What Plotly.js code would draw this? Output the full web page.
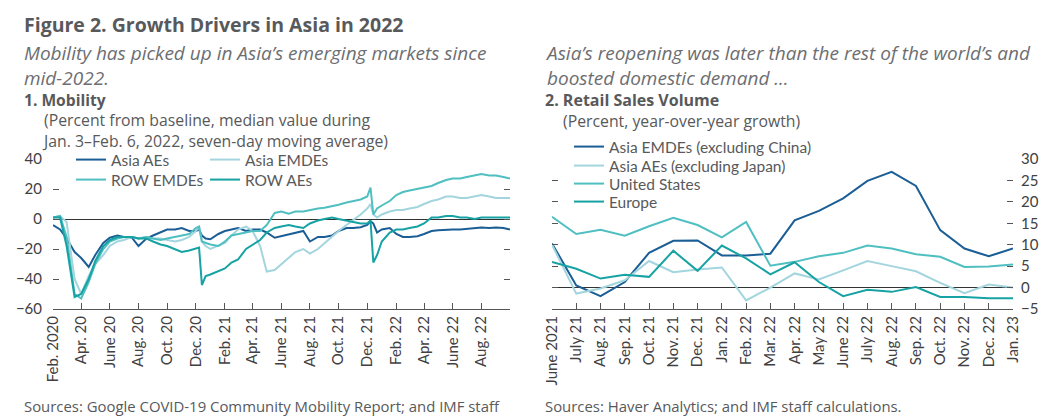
<!DOCTYPE html>
<html>
<head>
<meta charset="utf-8">
<script src="https://cdn.plot.ly/plotly-3.0.1.min.js"></script>
<style>
html,body{margin:0;padding:0;background:#fff;}
#chart{width:1059px;height:417px;}
</style>
</head>
<body>
<div id="chart"></div>
<script>
// ---------- Panel 1: Mobility (approximate readings, semi-monthly) ----------
const mobDates = [
 '2020-02-15','2020-03-01','2020-03-15','2020-04-01','2020-04-15','2020-05-01','2020-05-15','2020-06-01','2020-06-15',
 '2020-07-01','2020-07-15','2020-08-01','2020-08-15','2020-09-01','2020-09-15','2020-10-01','2020-10-15','2020-11-01',
 '2020-11-15','2020-12-01','2020-12-15','2020-12-22','2020-12-28',
 '2021-01-05','2021-01-15','2021-02-01','2021-02-15','2021-03-01','2021-03-15','2021-04-01','2021-04-15','2021-05-01',
 '2021-05-15','2021-06-01','2021-06-15','2021-07-01','2021-07-15','2021-08-01','2021-08-15','2021-09-01','2021-09-15',
 '2021-10-01','2021-10-15','2021-11-01','2021-11-15','2021-12-01','2021-12-15','2021-12-22','2021-12-28',
 '2022-01-05','2022-01-15','2022-02-01','2022-02-15','2022-03-01','2022-03-15','2022-04-01','2022-04-15','2022-05-01',
 '2022-05-15','2022-06-01','2022-06-15','2022-07-01','2022-07-15','2022-08-01','2022-08-15','2022-09-01','2022-09-15',
 '2022-10-01','2022-10-15'
];
const asiaAEs = [
 -4,-7,-13,-22,-26,-32,-24,-16,-12.5,
 -11,-12,-12.5,-18,-13,-11,-9,-7,-7,
 -6,-8,-8,-7,-11,
 -13,-13.5,-10,-8,-7,-6,-8,-7,-7,
 -9,-12.5,-11.5,-10,-9,-8,-15,-12,-12,
 -11,-8,-6,-6,-5.5,-4,-1.5,-3,
 -9,-7,-6,-10,-12,-12,-11.5,-10,-8,
 -7.5,-7,-7,-7,-6.5,-6,-5.7,-6,-5.7,
 -6,-7
];
const asiaEMDEs = [
 1,2,-2,-40,-50,-38,-30,-24,-18,
 -15,-14,-12,-13,-12,-13,-13,-14,-15,
 -14,-12,-8,-5,-15,
 -18,-20,-18,-16,-11,-7,-5,-8,-18,
 -35,-34,-30,-26,-22,-20,-23,-20,-16,
 -12,-8,-4,-1,3,7,10,3,
 1,3,5,6,6,7,8,10,12,
 13,15,15,14,14,15,16,15,14,
 14,14
];
const rowEMDEs = [
 1,2,-12,-50,-53,-42,-30,-20,-15,
 -13,-12,-12,-13,-12,-13,-14,-13,-12,
 -11,-10,-6,-5,-15,
 -16,-17,-18,-15,-11,-10,-9,-8,-8,
 -4,4,5,3.5,5,5,6,7,7.5,
 8.5,9.5,11,12,13,15,21,3,
 7,9,12,16,18,19,20,21,22,
 24,26,27,27,28,29,30,29,29,
 28,27
];
const rowAEs = [
 1,1,-18,-52,-50,-40,-28,-18,-14,
 -12,-12,-12,-13,-13,-15,-17,-18,-20,
 -22,-21,-20,-19,-44,
 -38,-37,-35,-33,-29,-27,-20,-17,-14,
 -9,-6,-5,-4,-5,-6,-3,-1,0,
 1,0,-1,-2,-3,-3,-1,-29,
 -24,-15,-9,-7,-7,-6,-5,-3,1,
 1,2,2,1,1,0,1,1,1,
 1,1
];
const mobTickVals = ['2020-02-15','2020-04-15','2020-06-15','2020-08-15','2020-10-15','2020-12-15','2021-02-15','2021-04-15',
 '2021-06-15','2021-08-15','2021-10-15','2021-12-15','2022-02-15','2022-04-15','2022-06-15','2022-08-15'];
const mobTickText = ['Feb. 2020','Apr. 20','June 20','Aug. 20','Oct. 20','Dec. 20','Feb. 21','Apr. 21',
 'June 21','Aug. 21','Oct. 21','Dec. 21','Feb. 22','Apr. 22','June 22','Aug. 22'];

// ---------- Panel 2: Retail sales volume ----------
const salesMonths = ['June 2021','July 21','Aug. 21','Sep. 21','Oct. 21','Nov. 21','Dec. 21','Jan. 22','Feb. 22','Mar. 22',
 'Apr. 22','May 22','June 22','July 22','Aug. 22','Sep. 22','Oct. 22','Nov. 22','Dec. 22','Jan. 23'];
const salesAsiaEMDEs = [10.3,0.5,-2.0,1.3,8.1,10.9,11.0,7.5,7.5,7.9,15.7,17.9,20.8,24.9,27.0,23.7,13.4,9.1,7.3,9.1];
const salesAsiaAEs   = [10.0,-1.4,-0.2,1.7,6.2,3.6,4.2,4.7,-3.0,0.0,3.3,1.9,4.0,6.2,5.0,3.8,1.1,-1.3,0.7,0.0];
const salesUS        = [16.5,12.5,13.5,12.1,14.3,16.3,14.6,11.7,15.3,5.1,6.0,7.3,8.1,9.8,9.1,7.8,7.2,4.8,4.9,5.4];
const salesEurope    = [6.0,4.4,2.1,3.0,2.5,8.6,3.9,9.8,6.8,3.1,5.9,1.3,-2.0,-0.5,-1.0,0.1,-2.2,-2.2,-2.5,-2.5];

const C_DARK = '#1b5e96', C_LIGHT = '#a3d5de', C_MID = '#4fbfc1', C_TEAL = '#17a2a3';
const FONT = '"Open Sans", sans-serif';
const FONT2 = 'Lato, sans-serif';
const TXT = '#58595b';
const W = 1059, T = 159, B = 108, PH = 417 - T - B;
const px = x => x / W;
const py = y => (417 - B - y) / PH;

const lw = 2;
const mk = (x, y, name, color, xa, ya, lg) => ({x: x, y: y, name: name, mode: 'lines', line: {color: color, width: lw},
  xaxis: xa, yaxis: ya, legend: lg});
const traces = [
 mk(mobDates, asiaAEs, 'Asia AEs', C_DARK, 'x', 'y', 'legend'),
 mk(mobDates, asiaEMDEs, 'Asia EMDEs', C_LIGHT, 'x', 'y', 'legend2'),
 mk(mobDates, rowEMDEs, 'ROW EMDEs', C_MID, 'x', 'y', 'legend3'),
 mk(mobDates, rowAEs, 'ROW AEs', C_TEAL, 'x', 'y', 'legend4'),
 mk(salesMonths, salesAsiaEMDEs, 'Asia EMDEs (excluding China)', C_DARK, 'x2', 'y2', 'legend5'),
 mk(salesMonths, salesAsiaAEs, 'Asia AEs (excluding Japan)', C_LIGHT, 'x2', 'y2', 'legend6'),
 mk(salesMonths, salesUS, 'United States', C_MID, 'x2', 'y2', 'legend7'),
 mk(salesMonths, salesEurope, 'Europe', C_TEAL, 'x2', 'y2', 'legend8')
];

const tickFont = {family: FONT2, size: 15, color: '#414042'};
const ann = (x, y, text, size, style) => ({xref: 'paper', yref: 'paper', x: px(x), y: py(y), text: text,
  showarrow: false, xanchor: 'left', yanchor: 'middle', align: 'left', borderpad: 0,
  font: Object.assign({family: FONT, size: size, color: TXT}, style || {})});
const leg = (x, y) => ({orientation: 'v', x: px(x), y: py(y), xanchor: 'left', yanchor: 'middle',
  bgcolor: 'rgba(0,0,0,0)', borderwidth: 0, font: {family: FONT2, size: 15.5, color: TXT}, itemwidth: 30});

const layout = {
 width: W, height: 417,
 margin: {l: 0, r: 0, t: T, b: B, pad: 0},
 paper_bgcolor: '#fff', plot_bgcolor: '#fff',
 showlegend: true,
 xaxis: {
  type: 'date', domain: [px(53), px(510)], range: ['2020-02-15', '2022-10-15'],
  tickvals: mobTickVals, ticktext: mobTickText, tickangle: -90, tickfont: tickFont,
  ticks: 'inside', ticklen: 6, tickcolor: '#555', showline: true, linecolor: '#555', linewidth: 1,
  showgrid: false, zeroline: false, anchor: 'y'
 },
 yaxis: {
  domain: [0, 1], range: [-60, 40], tickvals: [-60, -40, -20, 0, 20, 40], tickfont: tickFont,
  ticks: 'inside', ticklen: 6, tickcolor: '#555', mirror: 'ticks', showline: false,
  showgrid: false, zeroline: true, zerolinecolor: '#333', zerolinewidth: 1, ticklabelstandoff: 10, anchor: 'x'
 },
 xaxis2: {
  type: 'category', domain: [px(552), px(1013)], range: [0, 19], tickangle: -90, tickfont: tickFont,
  ticks: 'inside', ticklen: 6, tickcolor: '#555', showline: true, linecolor: '#555', linewidth: 1,
  showgrid: false, zeroline: false, anchor: 'y2'
 },
 yaxis2: {
  domain: [0, 1], range: [-5, 30], tickvals: [-5, 0, 5, 10, 15, 20, 25, 30], tickfont: tickFont, side: 'right',
  ticks: 'inside', ticklen: 6, tickcolor: '#555', mirror: 'ticks', showline: false,
  showgrid: false, zeroline: true, zerolinecolor: '#333', zerolinewidth: 1, ticklabelstandoff: 7, anchor: 'x2'
 },
 legend: leg(71, 160), legend2: leg(205, 160), legend3: leg(71, 180), legend4: leg(205, 180),
 legend5: leg(569, 147), legend6: leg(569, 166), legend7: leg(569, 184), legend8: leg(569, 202),
 annotations: [
  ann(23, 24, '<b>Figure 2. Growth Drivers in Asia in 2022</b>', 19.5),
  ann(23, 65.5, '<i>Mobility has picked up in Asia’s emerging markets since<br>mid-2022.</i>', 19, {color: '#6d6e71'}),
  ann(544, 65.5, '<i>Asia’s reopening was later than the rest of the world’s and<br>boosted domestic demand ...</i>', 19, {color: '#6d6e71'}),
  ann(23, 99.5, '<b>1. Mobility</b>', 15.6),
  ann(41, 130, '(Percent from baseline, median value during<br>Jan. 3–Feb. 6, 2022, seven-day moving average)', 15.8),
  ann(544, 100, '<b>2. Retail Sales Volume</b>', 16),
  ann(562, 121, '(Percent, year-over-year growth)', 15.8),
  ann(23, 406, 'Sources: Google COVID-19 Community Mobility Report; and IMF staff', 14.9),
  ann(544, 406, 'Sources: Haver Analytics; and IMF staff calculations.', 14.9)
 ]
};

Plotly.newPlot('chart', traces, layout, {staticPlot: true, displayModeBar: false});
</script>
</body>
</html>
